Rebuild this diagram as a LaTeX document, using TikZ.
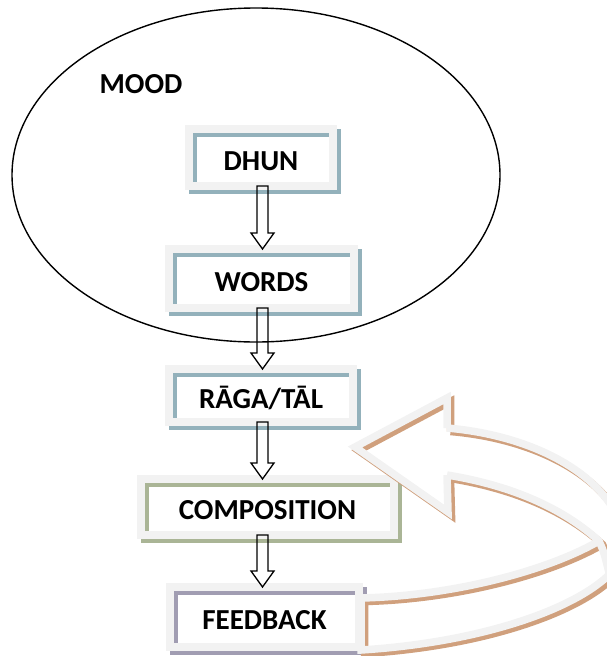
\documentclass[tikz,border=0pt]{standalone}
\usepackage{fontspec}
\setmainfont{Carlito}
\usetikzlibrary{calc}
\definecolor{bandgray}{RGB}{242,242,242}
\definecolor{bluegray}{RGB}{147,177,187}
\definecolor{olivegray}{RGB}{170,181,150}
\definecolor{lilacgray}{RGB}{161,157,178}
\definecolor{arrowtan}{RGB}{208,160,125}
\newcommand\mybandbox[2]{%
  \draw[line width=8pt,#2] ($(#1.north west)+(4pt,-4pt)$) rectangle ($(#1.south east)+(4pt,-4pt)$);
  \draw[line width=8pt,bandgray] (#1.north west) rectangle (#1.south east);}
\newcommand\blockarr[2]{%
  \draw[blockline] let \p1=(#1.south -| axis), \p2=(#2.north -| axis) in
  (\x1-5.5pt,\y1) -- (\x1-5.5pt,\y2+16pt) -- (\x1-11.5pt,\y2+16pt) -- (\x1,\y2)
  -- (\x1+11.5pt,\y2+16pt) -- (\x1+5.5pt,\y2+16pt) -- (\x1+5.5pt,\y1) -- cycle;}
\newcommand\fbarrow[1]{%
  \draw[#1] (447,428) -- (447,398) -- (355,447) -- (448,512) -- (447,475);
  \draw[#1] (447,428) .. controls (540,436) and (615,480) .. (625,540)
     .. controls (632,585) and (520,640) .. (361,650) -- (361,598)
     .. controls (450,596) and (545,572) .. (599,541);
  \draw[#1] (447,475) .. controls (515,486) and (565,510) .. (599,541)
     .. controls (604,552) .. (612,585);}
\begin{document}
\begin{tikzpicture}[x=1pt,y=-1pt,
  every node/.style={font=\bfseries\fontsize{29}{33}\selectfont},
  boxnode/.style={inner sep=0pt,outer sep=0pt,text height=25pt,text depth=0pt},
  blockline/.style={draw=black,line width=1.3pt,line join=miter},
  tanline/.style={draw=arrowtan,line width=7.5pt,line join=miter},
  grayline/.style={draw=bandgray,line width=7.5pt,line join=miter}]
\useasboundingbox (0,0) rectangle (607,656);
\clip (0,0) rectangle (607,656);
\coordinate (axis) at (262.5,0);
% ellipse
\draw[line width=1.4pt] (256,175) ellipse [x radius=244pt, y radius=167pt];
\node (mood) at (141,84.5) {MOOD};
% boxes
\node[boxnode,minimum width=144pt,minimum height=57pt] (dhun) at (261,157.5) {DHUN};
\node[boxnode,minimum width=185pt,minimum height=59pt] (words) at (261.5,278.5) {WORDS};
\node[boxnode,minimum width=184pt,minimum height=53pt] (raga) at (261,395.5) {RĀGA/TĀL};
\node[boxnode,minimum width=253pt,minimum height=56pt] (comp) at (267.5,507) {COMPOSITION};
\node[boxnode,minimum width=189pt,minimum height=60pt] (feed) at (264.5,617) {FEEDBACK};
\mybandbox{dhun}{bluegray}
\mybandbox{words}{bluegray}
\mybandbox{raga}{bluegray}
\mybandbox{comp}{olivegray}
\mybandbox{feed}{lilacgray}
% block arrows
\blockarr{dhun}{words}
\blockarr{words}{raga}
\blockarr{raga}{comp}
\blockarr{comp}{feed}
% curved feedback arrow
\begin{scope}[shift={(3.5pt,-3.5pt)}]
  \fbarrow{tanline}
\end{scope}
\fbarrow{grayline}
\end{tikzpicture}
\end{document}
